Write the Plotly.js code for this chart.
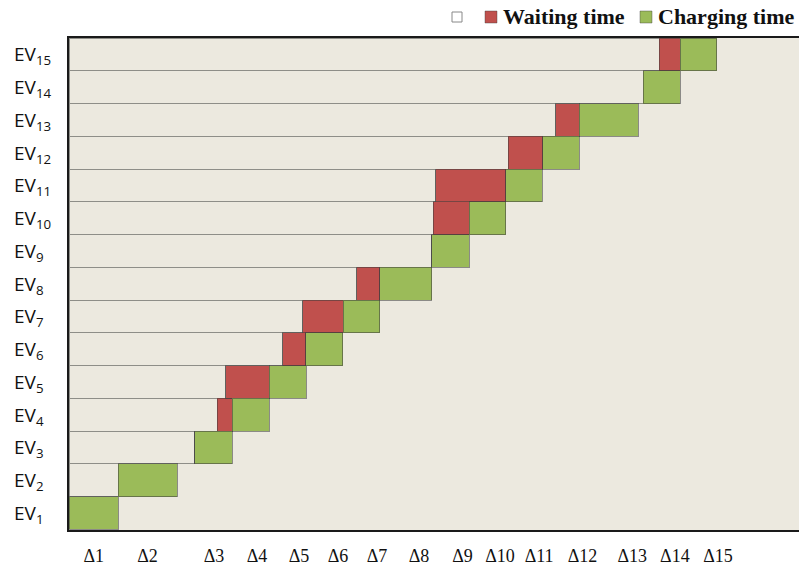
<!DOCTYPE html>
<html><head><meta charset="utf-8">
<script src="https://cdn.plot.ly/plotly-3.0.1.min.js"></script>
<style>html,body{margin:0;padding:0;background:#fff}#chart{width:799px;height:566px}</style>
</head><body><div id="chart"></div>
<script>
// EV index (bottom to top)
const evNumbers = [1,2,3,4,5,6,7,8,9,10,11,12,13,14,15];
// idle time before waiting/charging begins (time units)
const idleTime    = [0, 13.5, 34.5, 40.6, 43.0, 58.6, 64.1, 78.9, 99.4, 99.8, 100.5, 120.4, 133.3, 157.3, 161.7];
// waiting time
const waitingTime = [0, 0, 0, 4.1, 11.9, 6.3, 11.0, 6.3, 0, 9.8, 19.1, 9.4, 6.5, 0, 5.7];
// charging time
const chargingTime= [13.5, 16.2, 10.2, 10.1, 10.1, 10.1, 10.1, 14.2, 10.2, 10.1, 10.0, 10.0, 16.2, 10.1, 10.1];
// x tick labels and their positions
const deltaLabels = ['Δ1','Δ2','Δ3','Δ4','Δ5','Δ6','Δ7','Δ8','Δ9','Δ10','Δ11','Δ12','Δ13','Δ14','Δ15'];
const deltaPos    = [6.8, 21.5, 39.7, 51.5, 63.0, 73.7, 84.4, 95.9, 107.8, 118.1, 128.8, 140.7, 154.3, 166.0, 177.8];

const cats = evNumbers.map(n => 'EV' + n);
const BG = '#ECE9DF';

const traces = [
  {type:'bar', orientation:'h', y:cats, x:idleTime, name:'',
   marker:{color:BG, line:{color:'#8e8e88', width:1}}, showlegend:false, hoverinfo:'skip'},
  {type:'bar', orientation:'h', y:cats, x:waitingTime, name:'Waiting time',
   marker:{color:'#C0504D', line:{color:'rgba(60,60,60,0.55)', width:1}}, showlegend:false},
  {type:'bar', orientation:'h', y:cats, x:chargingTime, name:'Charging time',
   marker:{color:'#9BBB59', line:{color:'rgba(60,60,60,0.55)', width:1}}, showlegend:false}
];

// plot area pixel geometry
const L = 69, R = 799, T = 38, B = 530;
const px = v => (v - L) / (R - L);
const py = v => (B - v) / (B - T);

const annotations = evNumbers.map(n => ({
  xref:'paper', yref:'y', x:0, y:'EV' + n, xshift:-57, xanchor:'left', yanchor:'middle', yshift:-1,
  text:'EV<sub>' + n + '</sub>', showarrow:false,
  font:{family:'Open Sans, Noto Sans, sans-serif', size:19, color:'#111'}
}));
annotations.push(
  {xref:'paper', yref:'paper', x:px(501), y:py(17), xanchor:'left', yanchor:'middle', showarrow:false,
   text:'<b>Waiting time</b>', font:{family:'Liberation Serif, Times New Roman, serif', size:22, color:'#111'}},
  {xref:'paper', yref:'paper', x:px(656), y:py(17), xanchor:'left', yanchor:'middle', showarrow:false,
   text:'<b>Charging time</b>', font:{family:'Liberation Serif, Times New Roman, serif', size:22, color:'#111'}}
);

const shapes = [
  {type:'rect', xref:'paper', yref:'paper', x0:px(452), x1:px(462), y0:py(22), y1:py(12),
   fillcolor:'#ffffff', line:{color:'#888', width:1}},
  {type:'rect', xref:'paper', yref:'paper', x0:px(485), x1:px(497), y0:py(23), y1:py(11),
   fillcolor:'#C0504D', line:{color:'rgba(60,60,60,0.4)', width:1}},
  {type:'rect', xref:'paper', yref:'paper', x0:px(640), x1:px(652), y0:py(23), y1:py(11),
   fillcolor:'#9BBB59', line:{color:'rgba(60,60,60,0.4)', width:1}}
];

const layout = {
  width:799, height:566,
  margin:{l:L, r:799-R, t:T, b:566-B, pad:0},
  paper_bgcolor:'#ffffff', plot_bgcolor:BG,
  barmode:'stack', bargap:0, showlegend:false,
  xaxis:{range:[0,200], showgrid:false, zeroline:false, showline:true, mirror:true,
         linecolor:'#1a1a1a', linewidth:2, ticks:'', tickvals:deltaPos, ticktext:deltaLabels,
         ticklabelstandoff:8,
         tickfont:{family:'Liberation Serif, Times New Roman, serif', size:18, color:'#111'}},
  yaxis:{type:'category', categoryorder:'array', categoryarray:cats, showgrid:false, zeroline:false,
         showline:true, linecolor:'#1a1a1a', linewidth:2, showticklabels:false, ticks:''},
  annotations:annotations, shapes:shapes
};

Plotly.newPlot('chart', traces, layout, {displayModeBar:false, staticPlot:true});
</script></body></html>
